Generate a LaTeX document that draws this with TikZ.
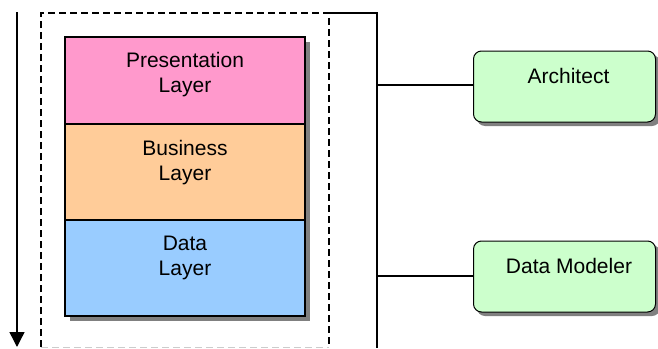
\documentclass[tikz,border=0pt]{standalone}
\usepackage{fontspec}
\setmainfont{Liberation Sans}
\usetikzlibrary{arrows.meta}
\definecolor{presfill}{HTML}{FF99CC}
\definecolor{busfill}{HTML}{FFCC99}
\definecolor{datafill}{HTML}{99CCFF}
\definecolor{actorfill}{HTML}{CCFFCC}
\definecolor{shadowgray}{HTML}{808080}
\tikzset{
  layerbox/.style={draw=black, line width=1.4pt, minimum width=240pt, inner sep=0pt},
  actorbox/.style={draw=black, line width=1pt, fill=actorfill, rounded corners=8pt,
    minimum width=182pt, minimum height=71pt, inner sep=0pt},
  caption/.style={font=\fontsize{21}{25}\selectfont, anchor=base, inner sep=0pt},
  wire/.style={line width=1.3pt},
  frame/.style={line width=1.4pt, dash pattern=on 7pt off 4pt},
}
\begin{document}
\begin{tikzpicture}[x=1pt, y=-1pt]
\useasboundingbox (0,0) rectangle (658,348);

% time arrow on the left
\coordinate (arrtop) at (17,12);
\coordinate (arrtip) at (17,347);
\draw[line width=1.4pt, -{Triangle[width=15pt,length=15pt]}] (arrtop) -- (arrtip);

% dashed boundary around the layer stack
\draw[frame] (41,347) -- (41,13) -- (329,13) -- (329,347);
\draw[frame, draw=black!20, line width=1pt] (41,347) -- (329,347);

% solid bracket carrying the role connectors
\coordinate (brtl) at (329,13);
\coordinate (brtr) at (377,13);
\coordinate (brbot) at (377,348);
\draw[wire] (brtl) -- (brtr) -- (brbot);

% layer stack with its shadow
\fill[shadowgray] (70,42) rectangle (310,321);
\node[layerbox, fill=presfill, minimum height=87pt] (pres) at (185,80.5) {};
\node[layerbox, fill=busfill, minimum height=96pt] (bus) at (185,172) {};
\node[layerbox, fill=datafill, minimum height=96pt] (data) at (185,268) {};
\draw[line width=1.4pt] (65,37) rectangle (305,316);

\node[caption] (presA) at (185,67) {Presentation};
\node[caption] (presB) at (185,92) {Layer};
\node[caption] (busA) at (185,155) {Business};
\node[caption] (busB) at (185,180) {Layer};
\node[caption] (dataA) at (185,250) {Data};
\node[caption] (dataB) at (185,275) {Layer};

% role boxes with shadows
\fill[shadowgray, rounded corners=8pt] (477,55) rectangle (660,126);
\node[actorbox] (arch) at (564.5,86.5) {};
\node[caption] (archtxt) at (568.5,83) {Architect};

\fill[shadowgray, rounded corners=8pt] (477,245) rectangle (660,316);
\node[actorbox] (dm) at (564.5,276.5) {};
\node[caption] (dmtxt) at (569,273) {Data Modeler};

% connectors from the bracket to the roles
\coordinate (tapA) at (377,85);
\coordinate (tapB) at (377,276);
\draw[wire] (tapA) -- (tapA -| arch.west);
\draw[wire] (tapB) -- (tapB -| dm.west);
\end{tikzpicture}
\end{document}
